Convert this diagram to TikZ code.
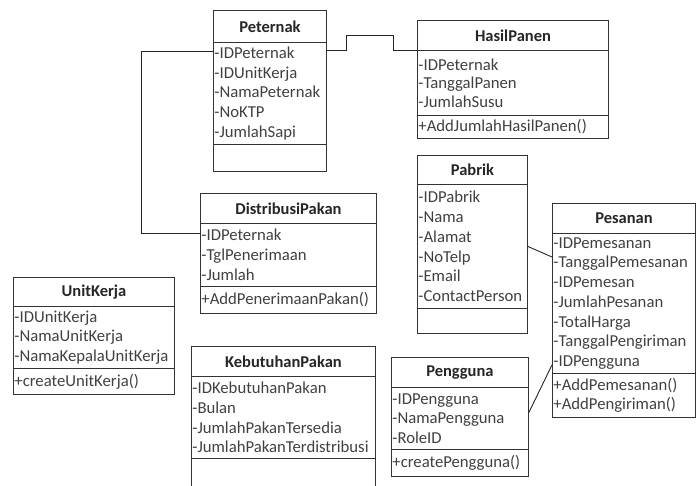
\documentclass[tikz,border=0pt]{standalone}
\usepackage{fontspec}
\setmainfont{Carlito}
\usetikzlibrary{calc}

\tikzset{
  classname/.style={draw=black!80, line width=0.9pt, anchor=north west, font=\fontsize{16.5}{19.7}\selectfont\bfseries, text=black!85, inner sep=0pt},
  classattr/.style={draw=black!80, line width=0.9pt, anchor=north west, align=left, text=black!75, inner xsep=1pt, inner ysep=0pt},
  assoc/.style={draw=black!85, line width=0.9pt}
}

\begin{document}
\begin{tikzpicture}[x=1pt, y=-1pt, font=\fontsize{16.7}{19.7}\selectfont]
    \useasboundingbox (0,0) rectangle (699,485);

    \node[classname, minimum width=113pt, minimum height=32pt] (peternak) at (213,10) {Peternak};
    \node[classattr, text width=111pt, minimum height=102pt] (peternakAttr) at (213,42) {-IDPeternak\\-IDUnitKerja\\-NamaPeternak\\-NoKTP\\-JumlahSapi};
    \node[classattr, text width=111pt, minimum height=27pt] (peternakOps) at (213,144) {};

    \node[classname, minimum width=191pt, minimum height=30pt] (hasilPanen) at (417,20) {HasilPanen};
    \node[classattr, text width=189pt, minimum height=65pt, font=\fontsize{16.7}{18.5}\selectfont] (hasilPanenAttr) at (417,50) {-IDPeternak\\-TanggalPanen\\-JumlahSusu};
    \node[classattr, text width=189pt, minimum height=23pt] (hasilPanenOps) at (417,115) {+AddJumlahHasilPanen()};

    \node[classname, minimum width=110pt, minimum height=29pt] (pabrik) at (417,155) {Pabrik};
    \node[classattr, text width=108pt, minimum height=124pt] (pabrikAttr) at (417,184) {-IDPabrik\\-Nama\\-Alamat\\-NoTelp\\-Email\\-ContactPerson};
    \node[classattr, text width=108pt, minimum height=25pt] (pabrikOps) at (417,308) {};

    \node[classname, minimum width=143pt, minimum height=30pt] (pesanan) at (552,203) {Pesanan};
    \node[classattr, text width=141pt, minimum height=140pt] (pesananAttr) at (552,233) {-IDPemesanan\\-TanggalPemesanan\\-IDPemesan\\-JumlahPesanan\\-TotalHarga\\-TanggalPengiriman\\-IDPengguna};
    \node[classattr, text width=141pt, minimum height=44pt] (pesananOps) at (552,373) {+AddPemesanan()\\+AddPengiriman()};

    \node[classname, minimum width=176pt, minimum height=30pt] (distribusi) at (200,193) {DistribusiPakan};
    \node[classattr, text width=174pt, minimum height=63pt] (distribusiAttr) at (200,223) {-IDPeternak\\-TglPenerimaan\\-Jumlah};
    \node[classattr, text width=174pt, minimum height=27pt] (distribusiOps) at (200,286) {+AddPenerimaanPakan()};

    \node[classname, minimum width=161pt, minimum height=29pt] (unitKerja) at (13,277) {UnitKerja};
    \node[classattr, text width=159pt, minimum height=62pt] (unitKerjaAttr) at (13,306) {-IDUnitKerja\\-NamaUnitKerja\\-NamaKepalaUnitKerja};
    \node[classattr, text width=159pt, minimum height=26pt] (unitKerjaOps) at (13,368) {+createUnitKerja()};

    \node[classname, minimum width=184pt, minimum height=30pt] (kebutuhan) at (191,346) {KebutuhanPakan};
    \node[classattr, text width=182pt, minimum height=82pt] (kebutuhanAttr) at (191,376) {-IDKebutuhanPakan\\-Bulan\\-JumlahPakanTersedia\\-JumlahPakanTerdistribusi};
    \node[classattr, text width=182pt, minimum height=37pt] (kebutuhanOps) at (191,458) {};

    \node[classname, minimum width=137pt, minimum height=30pt] (pengguna) at (391,357) {Pengguna};
    \node[classattr, text width=135pt, minimum height=62pt] (penggunaAttr) at (391,387) {-IDPengguna\\-NamaPengguna\\-RoleID};
    \node[classattr, text width=135pt, minimum height=27pt] (penggunaOps) at (391,449) {+createPengguna()};

    \draw[assoc] (peternakAttr.east |- hasilPanenAttr.north west) -- ++(20,0) -- ++(0,-15) -- ++(47,0) |- (hasilPanenAttr.north west);
    \draw[assoc] ($(peternakAttr.north west)+(0,9)$) -- ++(-72,0) |- ($(distribusiAttr.north west)+(0,10)$);
    \draw[assoc] (pabrikAttr.east) -- ($(pesananAttr.north west)+(0,24)$);
    \draw[assoc] ($(penggunaAttr.east)+(0,-6)$) -- ($(pesananAttr.south west)+(0,-9)$);
\end{tikzpicture}
\end{document}
